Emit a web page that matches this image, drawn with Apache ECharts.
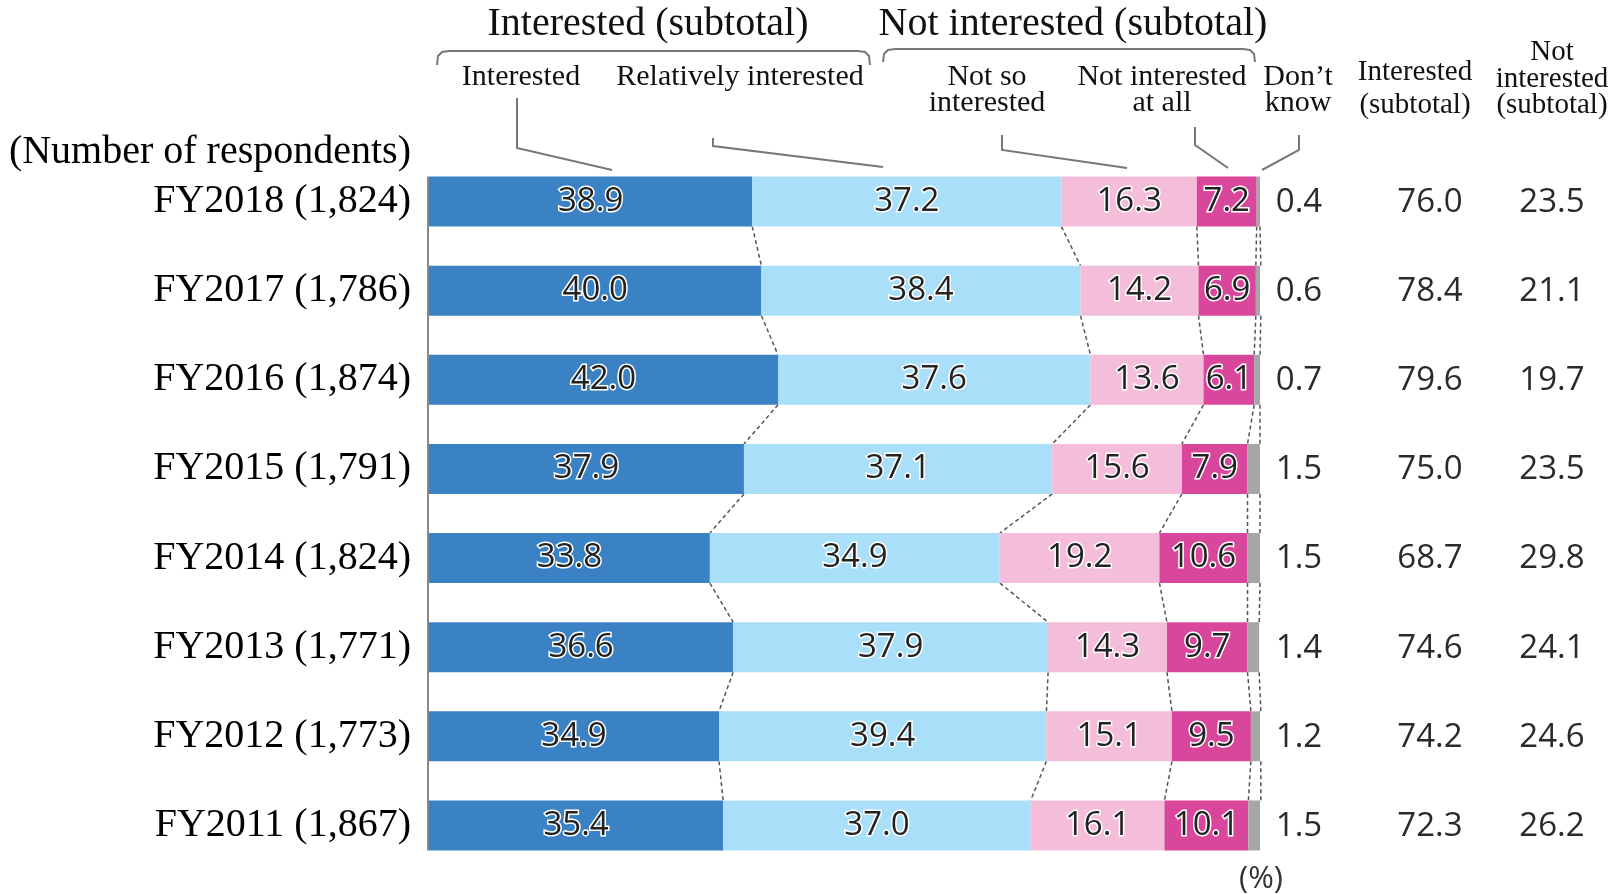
<!DOCTYPE html>
<html>
<head>
<meta charset="utf-8">
<script src="https://cdn.jsdelivr.net/npm/echarts@6/dist/echarts.min.js"></script>
<style>
  html, body { margin: 0; padding: 0; background: #fff; }
  #chart { width: 1610px; height: 894px; }
</style>
</head>
<body>
<div id="chart"></div>
<script>
// 年度（回答者数）
const years = ['FY2018 (1,824)', 'FY2017 (1,786)', 'FY2016 (1,874)', 'FY2015 (1,791)',
  'FY2014 (1,824)', 'FY2013 (1,771)', 'FY2012 (1,773)', 'FY2011 (1,867)'];
const interested = [38.9, 40.0, 42.0, 37.9, 33.8, 36.6, 34.9, 35.4];
const relatively = [37.2, 38.4, 37.6, 37.1, 34.9, 37.9, 39.4, 37.0];
const notSo = [16.3, 14.2, 13.6, 15.6, 19.2, 14.3, 15.1, 16.1];
const notAtAll = [7.2, 6.9, 6.1, 7.9, 10.6, 9.7, 9.5, 10.1];
const dontKnow = [0.4, 0.6, 0.7, 1.5, 1.5, 1.4, 1.2, 1.5];
const subInterested = [76.0, 78.4, 79.6, 75.0, 68.7, 74.6, 74.2, 72.3];
const subNotInterested = [23.5, 21.1, 19.7, 23.5, 29.8, 24.1, 24.6, 26.2];

const SERIF = '"Liberation Serif", "Times New Roman", serif';
const SANS = '"Open Sans", "Noto Sans", sans-serif';
const BAR_H = 50;
const colors = ['#3a82c4', '#aadff9', '#f4bdd9', '#d8479b', '#a6a6a6'];

const chart = echarts.init(document.getElementById('chart'));

// 累積値（破線の位置）
const parts = [interested, relatively, notSo, notAtAll, dontKnow];
const cum = years.map((_, i) => {
  let s = 0;
  return parts.map(p => (s += p[i]));
});

const barLabel = {
  show: true,
  position: 'inside',
  color: '#222',
  fontFamily: SANS,
  fontSize: 33,
  textBorderColor: '#fff',
  textBorderWidth: 3,
  formatter: p => p.value.toFixed(1)
};

function bar(name, data, idx, showLabel) {
  return {
    name, type: 'bar', stack: 'total', data,
    barWidth: BAR_H,
    itemStyle: { color: colors[idx] },
    label: showLabel ? barLabel : { show: false },
    silent: true
  };
}

const lineStyle = { stroke: '#777', lineWidth: 2, fill: null };

function txt(text, x, y, size, font, extra) {
  return {
    type: 'text',
    style: Object.assign({
      text, x, y, fill: '#111', font: size + 'px ' + font,
      textAlign: 'center', textVerticalAlign: 'middle'
    }, extra || {})
  };
}

function leader(points) {
  return { type: 'polyline', shape: { points }, style: lineStyle };
}

// 中括弧風の線
function bracket(x1, x2, top, bottom) {
  return leader([[x1, bottom], [x1 + 1, top + 5], [x1 + 5, top + 1], [x1 + 12, top],
    [x2 - 12, top], [x2 - 5, top + 1], [x2 - 1, top + 5], [x2, bottom]]);
}

const option = {
  animation: false,
  grid: { left: 429, right: 350, top: 157, bottom: 24, containLabel: false },
  xAxis: { type: 'value', min: 0, max: 100, show: false },
  yAxis: {
    type: 'category', data: years, inverse: true,
    axisLine: { show: false }, axisTick: { show: false },
    axisLabel: { color: '#000', fontFamily: SERIF, fontSize: 40, margin: 18 }
  },
  series: [
    bar('Interested', interested, 0, true),
    bar('Relatively interested', relatively, 1, true),
    bar('Not so interested', notSo, 2, true),
    bar('Not interested at all', notAtAll, 3, true),
    bar("Don't know", dontKnow, 4, false),
    {
      // 年度間の破線
      type: 'custom',
      silent: true,
      data: years.slice(0, -1).map((_, i) => [0, i]),
      renderItem(params, api) {
        const i = api.value(1);
        const children = [];
        for (let k = 0; k < parts.length; k++) {
          const a = api.coord([cum[i][k], i]);
          const b = api.coord([cum[i + 1][k], i + 1]);
          children.push({
            type: 'line',
            shape: { x1: a[0], y1: a[1] + BAR_H / 2, x2: b[0], y2: b[1] - BAR_H / 2 },
            style: { stroke: '#555', lineWidth: 1.5, lineDash: [4, 3] }
          });
        }
        if (i === 0) {
          const t = api.coord([0, 0]);
          const e = api.coord([0, years.length - 1]);
          children.push({
            type: 'line',
            shape: { x1: t[0] - 1, y1: t[1] - BAR_H / 2, x2: e[0] - 1, y2: e[1] + BAR_H / 2 },
            style: { stroke: '#888', lineWidth: 2 }
          });
        }
        return { type: 'group', children };
      }
    },
    {
      // 右側の数値列
      type: 'custom',
      silent: true,
      data: years.map((_, i) => [0, i]),
      renderItem(params, api) {
        const i = api.value(1);
        const y = api.coord([0, i])[1] + 1;
        const cols = [[1299, dontKnow[i]], [1430, subInterested[i]], [1552, subNotInterested[i]]];
        return {
          type: 'group',
          children: cols.map(c => ({
            type: 'text',
            style: {
              text: c[1].toFixed(1), x: c[0], y,
              fill: '#2a2a2a', font: '33px ' + SANS,
              textAlign: 'center', textVerticalAlign: 'middle'
            }
          }))
        };
      }
    }
  ],
  graphic: [
    txt('Interested (subtotal)', 648, 24, 40, SERIF),
    txt('Not interested (subtotal)', 1073, 24, 40, SERIF),
    bracket(437, 870, 51, 65),
    bracket(883, 1255, 49, 62),
    txt('Interested', 521, 77, 30, SERIF),
    txt('Relatively interested', 740, 77, 30, SERIF),
    txt('Not so', 987, 77, 30, SERIF),
    txt('interested', 987, 103, 30, SERIF),
    txt('Not interested', 1162, 77, 30, SERIF),
    txt('at all', 1162, 103, 30, SERIF),
    txt('Don\u2019t', 1298, 77, 30, SERIF),
    txt('know', 1298, 103, 30, SERIF),
    txt('Interested', 1415, 72, 29, SERIF),
    txt('(subtotal)', 1415, 105, 29, SERIF),
    txt('Not', 1552, 52, 29, SERIF),
    txt('interested', 1552, 79, 29, SERIF),
    txt('(subtotal)', 1552, 105, 29, SERIF),
    txt('(Number of respondents)', 411, 152, 40, SERIF, { textAlign: 'right', fill: '#000' }),
    txt('(%)', 1261, 879, 31, SANS, { fill: '#333' }),
    leader([[517, 98], [517, 148], [612, 170]]),
    leader([[713, 138], [713, 146], [883, 167]]),
    leader([[1002, 135], [1002, 150], [1127, 168]]),
    leader([[1195, 127], [1195, 145], [1228, 168]]),
    leader([[1299, 135], [1299, 150], [1262, 170]])
  ]
};

chart.setOption(option);
</script>
</body>
</html>
